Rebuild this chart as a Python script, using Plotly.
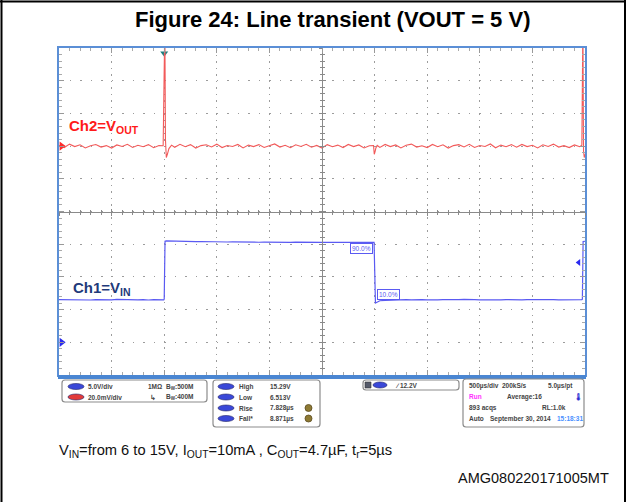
import plotly.graph_objects as go

# ---- data ----
# time in ms (500 us/div, trigger at t=0), Ch2 = Vout ripple in mV around 5 V
t_vout = [-1.00, -0.95, -0.90, -0.85, -0.80, -0.75, -0.70, -0.65, -0.60, -0.55,
          -0.50, -0.45, -0.40, -0.35, -0.30, -0.25, -0.20, -0.15, -0.10, -0.05,
          -0.01, 0.000, 0.006, 0.012, 0.020, 0.030, 0.045,
          0.07, 0.10, 0.15, 0.20, 0.25, 0.30, 0.35, 0.40, 0.45, 0.50,
          0.55, 0.60, 0.65, 0.70, 0.75, 0.80, 0.85, 0.90, 0.95, 1.00,
          1.05, 1.10, 1.15, 1.20, 1.25, 1.30, 1.35, 1.40, 1.45, 1.50,
          1.55, 1.60, 1.65, 1.70, 1.75, 1.80, 1.85, 1.90, 1.95,
          1.99, 1.997, 2.004, 2.012, 2.025,
          2.05, 2.10, 2.15, 2.20, 2.25, 2.30, 2.35, 2.40, 2.45, 2.50,
          2.55, 2.60, 2.65, 2.70, 2.75, 2.80, 2.85, 2.90, 2.95, 3.00,
          3.05, 3.10, 3.15, 3.20, 3.25, 3.30, 3.35, 3.40, 3.45, 3.50,
          3.55, 3.60, 3.65, 3.70, 3.75, 3.80, 3.85, 3.90, 3.95,
          3.97, 3.975, 3.98, 3.986, 3.993, 4.00]
v_out = [0.4, -0.9, 1.2, -0.3, 0.8, -1.1, 0.2, 1.0, -0.6, 0.3,
         -1.2, 0.7, -0.2, 1.1, -0.8, 0.5, -0.4, 0.9, -1.0, 0.3,
         0.2, 75, 75, 4, -7, -5, -1.5,
         0.6, -0.7, 1.1, -0.4, 0.9, -1.2, 0.3, 0.8, -0.5, 1.2,
         -0.9, 0.4, -0.2, 1.0, -1.1, 0.6, -0.3, 0.9, -0.8, 0.2,
         1.3, -0.6, 0.5, -1.0, 0.8, -0.2, 1.1, -0.7, 0.4, -1.2,
         0.9, -0.4, 0.6, -0.9, 1.0, -0.3, 0.7, -1.1, 0.2,
         0.3, -5, -3.5, -1.2, 0.4,
         -0.8, 1.0, -0.3, 0.7, -1.1, 0.5, 1.2, -0.6, 0.2, -0.9,
         1.0, -0.4, 0.8, -1.2, 0.3, 0.9, -0.5, 1.1, -0.8, 0.4,
         -0.2, 1.3, -1.0, 0.6, -0.4, 0.9, -0.7, 1.0, -0.3, 0.5,
         -1.1, 0.8, -0.2, 1.2, -0.6, 0.3, -0.9, 0.7, -0.4,
         0.5, 75, 75, -3, -7, -5]

# Ch1 = Vin in volts (6.5 V <-> 15.3 V steps)
t_vin = [-1.00, -0.95, -0.90, -0.85, -0.80, -0.75, -0.70, -0.65, -0.60, -0.55,
         -0.50, -0.45, -0.40, -0.35, -0.30, -0.25, -0.20, -0.15, -0.10, -0.05,
         -0.004, 0.000, 0.008, 0.020,
         0.05, 0.10, 0.15, 0.20, 0.25, 0.30, 0.35, 0.40, 0.45, 0.50,
         0.55, 0.60, 0.65, 0.70, 0.75, 0.80, 0.85, 0.90, 0.95, 1.00,
         1.05, 1.10, 1.15, 1.20, 1.25, 1.30, 1.35, 1.40, 1.45, 1.50,
         1.55, 1.60, 1.65, 1.70, 1.75, 1.80, 1.85, 1.90, 1.95,
         1.995, 2.008, 2.020,
         2.05, 2.10, 2.15, 2.20, 2.25, 2.30, 2.35, 2.40, 2.45, 2.50,
         2.55, 2.60, 2.65, 2.70, 2.75, 2.80, 2.85, 2.90, 2.95, 3.00,
         3.05, 3.10, 3.15, 3.20, 3.25, 3.30, 3.35, 3.40, 3.45, 3.50,
         3.55, 3.60, 3.65, 3.70, 3.75, 3.80, 3.85, 3.90, 3.95,
         3.97, 3.975, 3.982, 4.00]
v_in = [6.52, 6.50, 6.55, 6.48, 6.53, 6.51, 6.47, 6.54, 6.50, 6.52,
        6.49, 6.55, 6.51, 6.48, 6.53, 6.50, 6.52, 6.47, 6.54, 6.51,
        6.50, 6.60, 15.45, 15.50,
        15.48, 15.44, 15.46, 15.42, 15.43, 15.40, 15.41, 15.38, 15.39, 15.36,
        15.37, 15.34, 15.36, 15.33, 15.35, 15.31, 15.33, 15.30, 15.32, 15.29,
        15.31, 15.28, 15.30, 15.27, 15.31, 15.28, 15.30, 15.26, 15.29, 15.27,
        15.30, 15.28, 15.26, 15.29, 15.27, 15.30, 15.28, 15.27, 15.29,
        15.28, 6.00, 6.10,
        6.35, 6.42, 6.46, 6.49, 6.50, 6.52, 6.48, 6.53, 6.51, 6.49,
        6.54, 6.50, 6.52, 6.48, 6.53, 6.51, 6.55, 6.49, 6.52, 6.50,
        6.47, 6.53, 6.51, 6.49, 6.54, 6.50, 6.52, 6.48, 6.51, 6.53,
        6.50, 6.49, 6.52, 6.54, 6.50, 6.48, 6.52, 6.51, 6.50,
        6.52, 6.60, 15.40, 15.45]

trig_level = 12.2  # V

W, H = 628, 502


def px(x):
    return x / W


def py(y):
    return 1 - y / H


FONT = "Liberation Sans, Arial, sans-serif"
BLUE_FRAME = "#5b8fd6"
GRID = "#9c9c9c"

fig = go.Figure()

fig.add_trace(go.Scatter(x=t_vout, y=v_out, yaxis="y2", mode="lines",
                         line=dict(color="#f25a5a", width=1.1), hoverinfo="skip"))
fig.add_trace(go.Scatter(x=t_vin, y=v_in, mode="lines",
                         line=dict(color="#5a5af2", width=1.2), hoverinfo="skip"))

# channel / trigger markers
fig.add_trace(go.Scatter(x=[-0.975], y=[0], yaxis="y2", mode="markers", cliponaxis=False,
                         marker=dict(symbol="triangle-right", size=8, color="#ff2a2a"), hoverinfo="skip"))
fig.add_trace(go.Scatter(x=[-0.975], y=[0], mode="markers", cliponaxis=False,
                         marker=dict(symbol="triangle-right", size=8, color="#2a2af0"), hoverinfo="skip"))
fig.add_trace(go.Scatter(x=[0], y=[44.2], mode="markers", cliponaxis=False,
                         marker=dict(symbol="triangle-down", size=7, color="#1a8080"), hoverinfo="skip"))
fig.add_trace(go.Scatter(x=[3.94], y=[trig_level], mode="markers", cliponaxis=False,
                         marker=dict(symbol="triangle-left", size=6, color="#2a2af0"), hoverinfo="skip"))

# dummy traces for the centre graticule axes
fig.add_trace(go.Scatter(x=[None], y=[None], xaxis="x3", yaxis="y3", hoverinfo="skip"))
fig.add_trace(go.Scatter(x=[None], y=[None], xaxis="x4", yaxis="y4", hoverinfo="skip"))

dom_x = [px(59), px(585)]
dom_y = [py(375), py(48)]

xbase = dict(range=[-1, 4], tick0=-1, dtick=0.5, showticklabels=False, zeroline=False, fixedrange=True)
ybase = dict(range=[-5, 45], tick0=-5, dtick=5, showticklabels=False, zeroline=False, fixedrange=True)

center_x = dict(xbase, overlaying="x", anchor="free", position=py(211.5), showgrid=False,
                showline=True, linecolor="#8a8a8a", linewidth=1, tickcolor="#8a8a8a", ticklen=3,
                minor=dict(dtick=0.1, ticklen=2, tickcolor="#8a8a8a"))
center_y = dict(ybase, overlaying="y", anchor="free", position=px(322), showgrid=False,
                showline=True, linecolor="#8a8a8a", linewidth=1, tickcolor="#8a8a8a", ticklen=3,
                minor=dict(dtick=1, ticklen=2, tickcolor="#8a8a8a"))

fig.update_layout(
    width=W, height=H, autosize=False,
    margin=dict(l=0, r=0, t=0, b=0),
    paper_bgcolor="white", plot_bgcolor="white",
    showlegend=False, hovermode=False,
    font=dict(family=FONT, color="#222"),
    xaxis=dict(xbase, domain=dom_x, showgrid=True, gridcolor=GRID, gridwidth=1, griddash="1.5px,5px",
               showline=True, linecolor=BLUE_FRAME, linewidth=2, mirror="ticks",
               ticks="inside", ticklen=5, tickcolor="#999",
               minor=dict(dtick=0.1, ticks="inside", ticklen=3, tickcolor="#aaa")),
    yaxis=dict(ybase, domain=dom_y, showgrid=True, gridcolor=GRID, gridwidth=1, griddash="1.5px,9px",
               showline=True, linecolor=BLUE_FRAME, linewidth=2, mirror="ticks",
               ticks="inside", ticklen=5, tickcolor="#999",
               minor=dict(dtick=1, ticks="inside", ticklen=3, tickcolor="#aaa")),
    yaxis2=dict(range=[-140, 60], overlaying="y", anchor="x", visible=False, fixedrange=True),
    xaxis3=dict(center_x, ticks="outside", minor=dict(center_x["minor"], ticks="outside")),
    xaxis4=dict(center_x, ticks="inside", minor=dict(center_x["minor"], ticks="inside")),
    yaxis3=dict(center_y, ticks="outside", minor=dict(center_y["minor"], ticks="outside")),
    yaxis4=dict(center_y, ticks="inside", minor=dict(center_y["minor"], ticks="inside")),
)

shapes = []
# outer figure frame
shapes.append(dict(type="line", xref="paper", yref="paper", x0=px(1.5), x1=px(1.5), y0=0, y1=1,
                   line=dict(color="black", width=2)))
shapes.append(dict(type="line", xref="paper", yref="paper", x0=0, x1=px(626), y0=py(1.5), y1=py(1.5),
                   line=dict(color="black", width=2)))
shapes.append(dict(type="line", xref="paper", yref="paper", x0=px(625), x1=px(625), y0=0, y1=py(0),
                   line=dict(color="black", width=2)))
# thick blue bar under the screen
shapes.append(dict(type="rect", xref="paper", yref="paper", x0=px(58), x1=px(586), y0=py(379), y1=py(375),
                   line=dict(width=0), fillcolor="#4a86d2"))


def rbox(x0, y0, x1, y1, r=3):
    path = (f"M {px(x0 + r)},{py(y0)} L {px(x1 - r)},{py(y0)} Q {px(x1)},{py(y0)} {px(x1)},{py(y0 + r)} "
            f"L {px(x1)},{py(y1 - r)} Q {px(x1)},{py(y1)} {px(x1 - r)},{py(y1)} "
            f"L {px(x0 + r)},{py(y1)} Q {px(x0)},{py(y1)} {px(x0)},{py(y1 - r)} "
            f"L {px(x0)},{py(y0 + r)} Q {px(x0)},{py(y0)} {px(x0 + r)},{py(y0)} Z")
    return dict(type="path", xref="paper", yref="paper", path=path,
                line=dict(color="#8c8c8c", width=1.2), fillcolor="white")


shapes += [rbox(62, 380, 207, 402), rbox(213, 380, 320, 427),
           rbox(363, 380, 459, 390), rbox(463, 379, 584, 427)]


def pill(x, y, color, w=16, h=6):
    return dict(type="circle", xref="paper", yref="paper", x0=px(x - w / 2), x1=px(x + w / 2),
                y0=py(y + h / 2), y1=py(y - h / 2), line=dict(color="#222266", width=0.6), fillcolor=color)


for yy, col in [(386.5, "#3a48d8"), (397, "#e23a3a")]:
    shapes.append(pill(76, yy, col))
for yy in [386.5, 397, 408, 418.5]:
    shapes.append(pill(226, yy, "#3a48d8"))
shapes.append(pill(380, 385, "#3a48d8", w=14))
shapes.append(dict(type="rect", xref="paper", yref="paper", x0=px(365), x1=px(371), y0=py(388), y1=py(382),
                   line=dict(color="#333", width=0.6), fillcolor="#555a6a"))
for yy in [408, 418.5]:
    shapes.append(dict(type="circle", xref="paper", yref="paper", x0=px(305), x1=px(312),
                       y0=py(yy + 3.5), y1=py(yy - 3.5), line=dict(color="#5a4a20", width=0.8),
                       fillcolor="#8e7a34"))
fig.update_layout(shapes=shapes)

ann = []


def txt(x, y, s, size=6.5, color="#444", anchor="left", bold=True):
    ann.append(dict(x=px(x), y=py(y), xref="paper", yref="paper", text=f"<b>{s}</b>" if bold else s,
                    showarrow=False, xanchor=anchor, yanchor="middle",
                    font=dict(size=size, color=color, family=FONT)))


txt(332, 20, "Figure 24: Line transient (VOUT = 5 V)", size=22, color="black", anchor="center")
txt(67, 126, "Ch2=V<sub>OUT</sub>", size=15, color="#ff1a1a")
txt(71, 288, "Ch1=V<sub>IN</sub>", size=15, color="#1f3a7a")

# scope info panel
txt(86, 386.5, "5.0V/div")
txt(86, 397, "20.0mV/div")
txt(146, 386.5, "1MΩ")
txt(164, 386.5, "B<sub>W</sub>:500M")
txt(148, 397, "↳")
txt(164, 397, "B<sub>W</sub>:400M")
for yy, lab, val in [(386.5, "High", "15.29V"), (397, "Low", "6.513V"),
                     (408, "Rise", "7.828µs"), (418.5, "Fall*", "8.871µs")]:
    txt(237, yy, lab)
    txt(268, yy, val)
txt(393, 385, "∕ 12.2V")
txt(467, 385.5, "500µs/div")
txt(500, 385.5, "200kS/s")
txt(546, 385.5, "5.0µs/pt")
txt(467, 396.5, "Run", color="#ff30ff")
txt(505, 396.5, "Average:16")
txt(572, 396.5, "🌡", size=7, color="#2a2ad0")
txt(467, 407.5, "893 acqs")
txt(540, 407.5, "RL:1.0k")
txt(467, 418.5, "Auto")
txt(488, 418.5, "September 30, 2014")
txt(555, 418.5, "15:18:31", color="#4a90ff")

# caption and id
txt(57, 451, "V<sub>IN</sub>=from 6 to 15V, I<sub>OUT</sub>=10mA , C<sub>OUT</sub>=4.7µF, t<sub>r</sub>=5µs",
    size=14.7, color="#111", bold=False)
txt(611, 478, "AMG080220171005MT", size=14.5, color="#111", anchor="right", bold=False)

# percentage cursors on the falling edge (data coordinates)
for x, y, s in [(1.88, 14.4, "90.0%"), (2.13, 7.3, "10.0%")]:
    ann.append(dict(x=x, y=y, xref="x", yref="y", text=s, showarrow=False,
                    font=dict(size=6.5, color="#5a5af2", family=FONT),
                    bordercolor="#5a5af2", borderwidth=1, borderpad=1, bgcolor="white"))

fig.update_layout(annotations=ann)

fig.write_html("out.html", config={"displayModeBar": False},
               post_script="document.body.style.margin='0';")
